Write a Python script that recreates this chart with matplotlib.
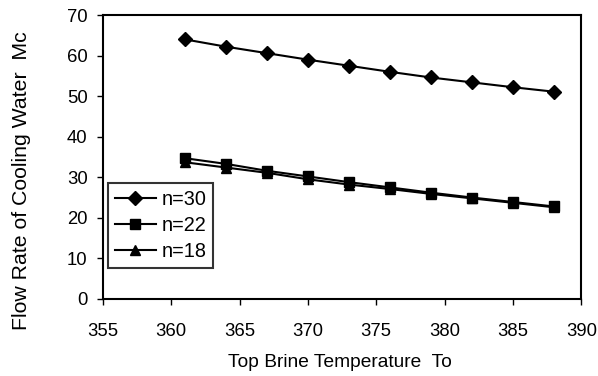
import numpy as np
import matplotlib.pyplot as plt

plt.rcParams['font.family'] = ['Liberation Sans', 'DejaVu Sans']

# 數據
temps = [361, 364, 367, 370, 373, 376, 379, 382, 385, 388]
mc_n30 = [64.0, 62.2, 60.6, 59.0, 57.5, 56.0, 54.6, 53.4, 52.2, 51.1]
mc_n22 = [34.7, 33.3, 31.6, 30.2, 28.8, 27.5, 26.2, 25.0, 23.9, 22.8]
mc_n18 = [33.7, 32.4, 31.1, 29.5, 28.2, 27.1, 25.9, 24.8, 23.7, 22.6]
labels = ['n=30', 'n=22', 'n=18']

fig = plt.figure(figsize=(5.98, 3.76), dpi=100)
ax = fig.add_axes([0.172, 0.205, 0.8, 0.755])

ax.plot(temps, mc_n30, 'D-', color='black', markersize=7, linewidth=1.5, label=labels[0])
ax.plot(temps, mc_n22, 's-', color='black', markersize=7.5, linewidth=1.5, label=labels[1])
ax.plot(temps, mc_n18, '^-', color='black', markersize=7.5, linewidth=1.5, label=labels[2])

ax.set_xlim(355, 390)
ax.set_ylim(0, 70)
ax.set_xticks(np.arange(355, 391, 5))
ax.set_yticks(np.arange(0, 71, 10))
ax.tick_params(labelsize=13.3, direction='out', length=4, width=1)
ax.tick_params(axis='x', pad=13)
ax.tick_params(axis='y', pad=7)
for s in ax.spines.values():
    s.set_linewidth(1.5)

ax.set_xlabel('Top Brine Temperature  To', fontsize=13.8)
ax.set_ylabel('Flow Rate of Cooling Water  Mc', fontsize=15.3)
ax.xaxis.set_label_coords(0.496, -0.195)
ax.yaxis.set_label_coords(-0.15, 0.415)

leg = ax.legend(loc='lower left', bbox_to_anchor=(0.01, 0.109), borderaxespad=0,
                fontsize=14.3, frameon=True, fancybox=False, edgecolor='black',
                handlelength=2.1, handletextpad=0.25, borderpad=0.35, labelspacing=0.35)
leg.get_frame().set_linewidth(1.5)

plt.savefig('out.png', dpi=100)
